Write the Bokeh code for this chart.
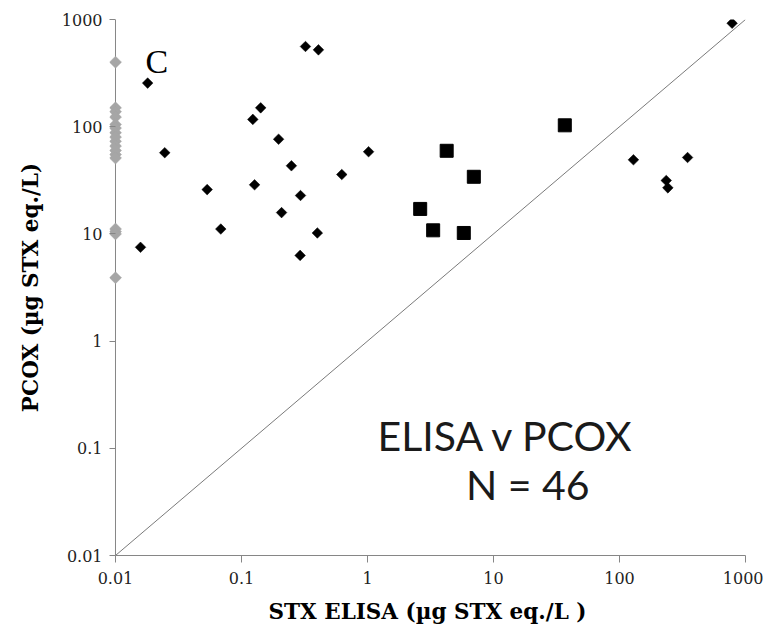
import numpy as np
from bokeh.plotting import figure
from bokeh.models import FixedTicker, CustomJSTickFormatter, Label
from bokeh.embed import file_html
from bokeh.resources import INLINE

# Data
tick_values = [0.01, 0.1, 1, 10, 100, 1000]
tick_labels = ["0.01", "0.1", "1", "10", "100", "1000"]

# black diamonds (ELISA, PCOX)
diamond_x = [0.018, 0.0246, 0.0158, 0.0534, 0.0685, 0.123, 0.142, 0.127, 0.197, 0.208,
             0.249, 0.294, 0.292, 0.322, 0.408, 0.40, 0.625, 1.02, 129, 235, 242, 347, 783]
diamond_y = [255, 57.2, 7.5, 25.9, 11.1, 117, 150, 28.7, 76.4, 15.8,
             43.2, 22.8, 6.3, 560, 521, 10.2, 35.8, 58.4, 49.1, 31.5, 26.9, 51.6, 923]

# black squares
square_x = [2.62, 3.32, 4.25, 5.81, 6.98, 36.8]
square_y = [17.1, 10.8, 59.6, 10.2, 34.1, 103]

# grey diamonds at ELISA detection limit
grey_x = [0.01] * 17
grey_y = [400, 150, 138, 123, 105, 97, 88, 80, 73, 66, 60, 55, 51, 11.1, 10.5, 10.0, 3.9]

# 1:1 line
line_x = [0.01, 1000]
line_y = [0.01, 1000]

SERIF = "DejaVu Serif"
AX = "#868686"

# x range starts a little left of 0.01 so the grey markers on the axis are not clipped
p = figure(width=763, height=638, x_axis_type="log", y_axis_type="log",
           x_range=(0.008963, 1000), y_range=(0.01, 1000),
           output_backend="svg", toolbar_location=None,
           min_border_left=109, min_border_right=18, min_border_top=19, min_border_bottom=83)
p.outline_line_color = None
p.xgrid.visible = False
p.ygrid.visible = False
p.background_fill_color = "white"
p.border_fill_color = "white"

fmt = CustomJSTickFormatter(args=dict(vals=tick_values, labs=tick_labels), code="""
    for (let i = 0; i < vals.length; i++) {
        if (Math.abs(Math.log10(tick) - Math.log10(vals[i])) < 1e-6) return labs[i];
    }
    return "";
""")

for ax in (p.xaxis[0], p.yaxis[0]):
    ax.ticker = FixedTicker(ticks=tick_values, minor_ticks=[])
    ax.formatter = fmt
    ax.axis_line_color = AX
    ax.major_tick_line_color = AX
    ax.minor_tick_line_color = None
    ax.major_label_text_font = SERIF
    ax.major_label_text_font_size = "16px"
    ax.major_label_text_color = "#222222"
    ax.axis_label_text_font = SERIF
    ax.axis_label_text_font_size = "21.5px"
    ax.axis_label_text_font_style = "bold"
    ax.axis_label_text_color = "black"

p.xaxis.bounds = (0.01, 1000)
p.xaxis.major_tick_out = 7
p.xaxis.major_tick_in = 0
# y axis: frame edge sits 6px left of x=0.01, so ticks drawn inward reach the axis line
p.yaxis.axis_line_color = None
p.yaxis.major_tick_out = 0
p.yaxis.major_tick_in = 6

p.xaxis.axis_label = "STX ELISA (\u00b5g STX eq./L )"
p.yaxis.axis_label = "PCOX (\u00b5g STX eq./L)"
p.xaxis.major_label_standoff = 9
p.yaxis.major_label_standoff = 7
p.xaxis.axis_label_standoff = 12
p.yaxis.axis_label_standoff = 16

# y axis line at x = 0.01
p.segment(x0=[line_x[0]], y0=[line_y[0]], x1=[line_x[0]], y1=[line_y[1]],
          line_color=AX, line_width=1)

p.line(line_x, line_y, line_color="#7a7a7a", line_width=1)

p.scatter(grey_x, grey_y, marker="square", angle=np.pi / 4, size=8.5,
          fill_color="#a6a6a6", line_color="#a6a6a6", line_width=0.5)
p.scatter(diamond_x, diamond_y, marker="square", angle=np.pi / 4, size=7.5,
          fill_color="black", line_color="black", line_width=0.5)
p.scatter(square_x, square_y, marker="square", size=13,
          fill_color="black", line_color="black")

p.add_layout(Label(x=0.0173, y=405, text="C", text_font="Liberation Serif",
                   text_font_size="34px", text_color="black", text_baseline="middle"))
p.add_layout(Label(x=1.2, y=0.132, text="ELISA v PCOX", text_font="Lato",
                   text_font_size="41px", text_color="#1a1a1a", text_baseline="middle"))
p.add_layout(Label(x=6.05, y=0.046, text="N = 46", text_font="Lato",
                   text_font_size="41px", text_color="#1a1a1a", text_baseline="middle"))

open("out.html", "w").write(file_html(p, INLINE))
